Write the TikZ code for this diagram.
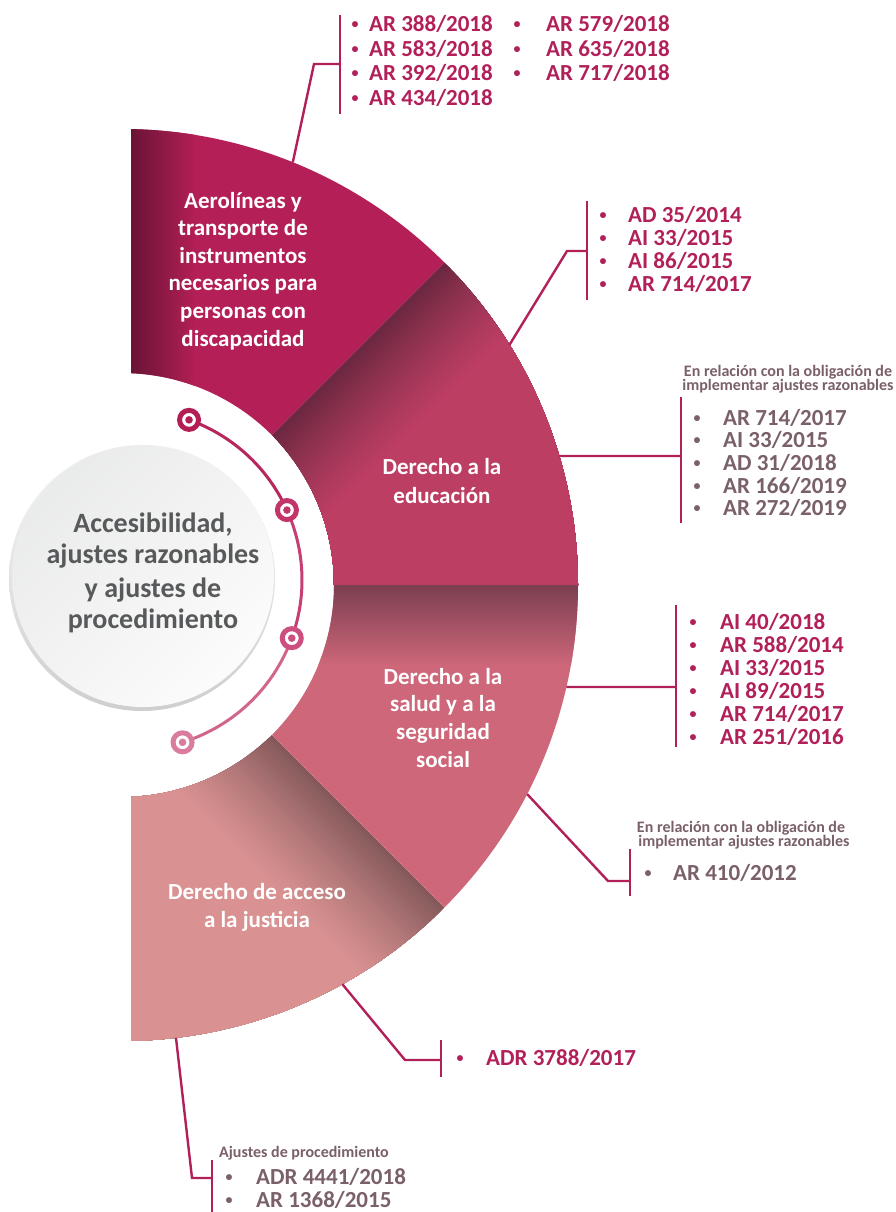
\documentclass[tikz,border=0pt]{standalone}
\usepackage{fontspec}
\setmainfont{Carlito}
\usetikzlibrary{calc,shadings}
\definecolor{mag}{HTML}{B2205A}
\definecolor{grayt}{HTML}{7A6068}
\definecolor{sA}{HTML}{B31F56}
\definecolor{sAd}{HTML}{6A1335}
\definecolor{sB}{HTML}{BE3E64}
\definecolor{sBd}{HTML}{6C2840}
\definecolor{sC}{HTML}{CD6779}
\definecolor{sCd}{HTML}{7B3F50}
\definecolor{sD}{HTML}{DA9292}
\definecolor{sDd}{HTML}{85595B}
\definecolor{ctext}{HTML}{58595B}
\definecolor{cA}{HTML}{E6E7E8}
\definecolor{cB}{HTML}{F3F3F3}
\definecolor{dA}{HTML}{B31F55}
\definecolor{dB}{HTML}{C2356B}
\definecolor{dC}{HTML}{CC4F7F}
\definecolor{dD}{HTML}{D97C9E}
\tikzset{
 sector/.style 2 args={insert path={($(C)+(#1:212)$) -- ($(C)+(#1:456)$) arc[start angle=#1, end angle=#2, radius=456] -- ($(C)+(#2:212)$) arc[start angle=#2, end angle=#1, radius=212] -- cycle}},
 conn/.style={draw=mag, line width=2.4pt},
 bar/.style={draw=mag, line width=2.8pt},
 item/.style={font=\fontsize{23}{24}\selectfont\bfseries, inner sep=0pt, anchor=base west},
 bul/.style={font=\fontsize{14}{14}\selectfont\bfseries, inner sep=0pt, anchor=base, yshift=3pt},
 hdr/.style={font=\fontsize{16}{14}\selectfont\bfseries, text=grayt, inner sep=0pt, anchor=base},
 seclab/.style={font=\fontsize{23}{24}\selectfont\bfseries, text=white, inner sep=0pt, anchor=base},
 ctr/.style={font=\fontsize{28}{30}\selectfont\bfseries, text=ctext, inner sep=0pt, anchor=base},
 dotring/.style={circle, minimum size=19pt, inner sep=0pt, line width=5pt, fill=white},
}
\begin{document}
\begin{tikzpicture}[x=1pt,y=-1pt]
\useasboundingbox (0,0) rectangle (896,1212);
\fill[white] (0,0) rectangle (896,1212);
\coordinate (C) at (122,585);

% ---------- fan ----------
\begin{scope}
\clip (131,0) rectangle (896,1212);
% S1
\fill[sA, sector={-90}{-45}];
\begin{scope}
\clip[sector={-90}{-45}];
\shade[left color=sAd, right color=sA] (131,100) rectangle (195,420);
\end{scope}
% S2
\fill[sB, sector={-45}{0}];
\begin{scope}
\clip[sector={-45}{0}];
\foreach \k in {0,...,24}{
  \pgfmathsetmacro\d{\k*4}
  \pgfmathsetmacro\p{100*(1-\k/25)^1.3}
  \fill[sBd!\p!sB] ($(C)+(45:\d)+(135:30)$) -- ++(-45:540) -- ++(45:300) -- ++(135:540) -- cycle;
}
\end{scope}
% S3
\fill[sC, sector={0}{45}];
\begin{scope}
\clip[sector={0}{45}];
\shade[top color=sCd, bottom color=sC] (300,585) rectangle (600,665);
\end{scope}
% S4
\fill[sD, sector={45}{90}];
\begin{scope}
\clip[sector={45}{90}];
\shade[left color=sDd, right color=sD] (131,780) rectangle (195,1060);
\foreach \k in {0,...,24}{
  \pgfmathsetmacro\d{\k*4.4}
  \pgfmathsetmacro\p{100*(1-\k/25)^1.3}
  \fill[sDd!\p!sD] ($(C)+(135:\d)+(225:30)$) -- ++(45:540) -- ++(135:300) -- ++(225:540) -- cycle;
}
\end{scope}
\end{scope}

% ---------- sector labels ----------
\foreach \t [count=\i] in {Aerolíneas y, transporte de, instrumentos, necesarios para, personas con, discapacidad}
  \node[seclab] (sa\i) at (243,{208+27.6*(\i-1)}) {\t};
\node[seclab] (sb1) at (442,474) {Derecho a la};
\node[seclab] (sb2) at (442,503) {educación};
\foreach \t [count=\i] in {Derecho a la, salud y a la, seguridad, social}
  \node[seclab] (sc\i) at (443,{684+27.7*(\i-1)}) {\t};
\node[seclab] (sd1) at (257,899) {Derecho de acceso};
\node[seclab] (sd2) at (257,927) {a la justicia};

% ---------- center circle ----------
\shade[top color=gray!6, bottom color=gray!38] (142,578) circle (133);
\shade[upper left=cA, upper right=cB, lower left=cB, lower right=white] (143,576) circle (131);
\node[ctr] (h1) at (153,532) {Accesibilidad,};
\node[ctr] (h2) at (153,563) {ajustes razonables};
\node[ctr] (h3) at (153,597) {y ajustes de};
\node[ctr] (h4) at (153,628) {procedimiento};

% ---------- dotted arc ----------
\coordinate (D) at (132,580);
\draw[line width=3pt, color=dA!70!dB] ($(D)+(-70.4:170)$) arc[start angle=-70.4, end angle=-24.3, radius=170];
\draw[line width=3pt, color=dB!60!dC] ($(D)+(-24.3:170)$) arc[start angle=-24.3, end angle=20, radius=170];
\draw[line width=3pt, color=dC!50!dD] ($(D)+(20:170)$) arc[start angle=20, end angle=72.7, radius=170];
\node[dotring, draw=dA] (d1) at ($(D)+(-70.4:170)$) {};
\node[dotring, draw=dB] (d2) at ($(D)+(-24.3:170)$) {};
\node[dotring, draw=dC] (d3) at ($(D)+(20:170)$) {};
\node[dotring, draw=dD] (d4) at ($(D)+(72.7:170)$) {};
\fill[dA] (d1.center) circle (3.8);
\fill[dB] (d2.center) circle (3.8);
\fill[dC] (d3.center) circle (3.8);
\fill[dD] (d4.center) circle (3.8);

% ---------- list 1 ----------
\coordinate (a1) at ($(C)+(-68:456)$);
\coordinate (e1) at (314,64);
\coordinate (j1) at (340,64);
\coordinate (b1t) at (340,15);
\coordinate (b1b) at (340,114);
\draw[bar] (b1t) -- (b1b);
\draw[conn] (a1) -- (e1) -- (j1);
\foreach \t [count=\i] in {AR 388/2018, AR 583/2018, AR 392/2018, AR 434/2018}{
  \node[bul, text=mag] (p1\i) at (355,{32+24.4*(\i-1)}) {•};
  \node[item, text=mag] (t1\i) at (369,{32+24.4*(\i-1)}) {\t};
}
\foreach \t [count=\i] in {AR 579/2018, AR 635/2018, AR 717/2018}{
  \node[bul, text=mag] (q1\i) at (517,{32+24.4*(\i-1)}) {•};
  \node[item, text=mag] (u1\i) at (546,{32+24.4*(\i-1)}) {\t};
}

% ---------- list 2 ----------
\coordinate (a2) at ($(C)+(-31.8:456)$);
\coordinate (e2) at (567,251);
\coordinate (j2) at (587,251);
\coordinate (b2t) at (587,201);
\coordinate (b2b) at (587,300);
\draw[bar] (b2t) -- (b2b);
\draw[conn] (a2) -- (e2) -- (j2);
\foreach \t [count=\i] in {AD 35/2014, AI 33/2015, AI 86/2015, AR 714/2017}{
  \node[bul, text=mag] (p2\i) at (603,{222+23*(\i-1)}) {•};
  \node[item, text=mag] (t2\i) at (628,{222+23*(\i-1)}) {\t};
}

% ---------- list 3 ----------
\coordinate (a3) at ($(C)+(-16.43:456)$);
\coordinate (j3) at (681,456);
\coordinate (b3t) at (681,397);
\coordinate (b3b) at (681,523);
\draw[bar] (b3t) -- (b3b);
\draw[conn] (a3) -- (j3);
\node[hdr] (g3a) at (788,376) {En relación con la obligación de};
\node[hdr] (g3b) at (788,390) {implementar ajustes razonables};
\foreach \t [count=\i] in {AR 714/2017, AI 33/2015, AD 31/2018, AR 166/2019, AR 272/2019}{
  \node[bul, text=grayt] (p3\i) at (697,{425+22.7*(\i-1)}) {•};
  \node[item, text=grayt] (t3\i) at (723,{425+22.7*(\i-1)}) {\t};
}

% ---------- list 4 ----------
\coordinate (a4) at ($(C)+(12.92:456)$);
\coordinate (j4) at (676,687);
\coordinate (b4t) at (676,605);
\coordinate (b4b) at (676,747);
\draw[bar] (b4t) -- (b4b);
\draw[conn] (a4) -- (j4);
\foreach \t [count=\i] in {AI 40/2018, AR 588/2014, AI 33/2015, AI 89/2015, AR 714/2017, AR 251/2016}{
  \node[bul, text=mag] (p4\i) at (693,{629+23*(\i-1)}) {•};
  \node[item, text=mag] (t4\i) at (720,{629+23*(\i-1)}) {\t};
}

% ---------- list 5 ----------
\coordinate (a5) at ($(C)+(27.3:456)$);
\coordinate (e5) at (608,881);
\coordinate (j5) at (630,881);
\coordinate (b5t) at (630,849);
\coordinate (b5b) at (630,896);
\draw[bar] (b5t) -- (b5b);
\draw[conn] (a5) -- (e5) -- (j5);
\node[hdr] (g5a) at (741,832) {En relación con la obligación de};
\node[hdr] (g5b) at (744,846) {implementar ajustes razonables};
\node[bul, text=grayt] (p51) at (648,880) {•};
\node[item, text=grayt] (t51) at (673,880) {AR 410/2012};

% ---------- list 6 ----------
\coordinate (a6) at ($(C)+(61.1:456)$);
\coordinate (e6) at (405,1060);
\coordinate (j6) at (441,1060);
\coordinate (b6t) at (441,1040);
\coordinate (b6b) at (441,1077);
\draw[bar] (b6t) -- (b6b);
\draw[conn] (a6) -- (e6) -- (j6);
\node[bul, text=mag] (p61) at (460,1065) {•};
\node[item, text=mag] (t61) at (486,1065) {ADR 3788/2017};

% ---------- list 7 ----------
\coordinate (a7) at ($(C)+(83.2:456)$);
\coordinate (e7) at (192,1178);
\coordinate (j7) at (212,1178);
\coordinate (b7t) at (212,1160);
\coordinate (b7b) at (212,1214);
\draw[bar] (b7t) -- (b7b);
\draw[conn] (a7) -- (e7) -- (j7);
\node[hdr, anchor=base west] (g7) at (219,1157) {Ajustes de procedimiento};
\node[bul, text=grayt] (p71) at (229,1184) {•};
\node[item, text=grayt] (t71) at (256,1184) {ADR 4441/2018};
\node[bul, text=grayt] (p72) at (229,1207) {•};
\node[item, text=grayt] (t72) at (256,1207) {AR 1368/2015};
\end{tikzpicture}
\end{document}
